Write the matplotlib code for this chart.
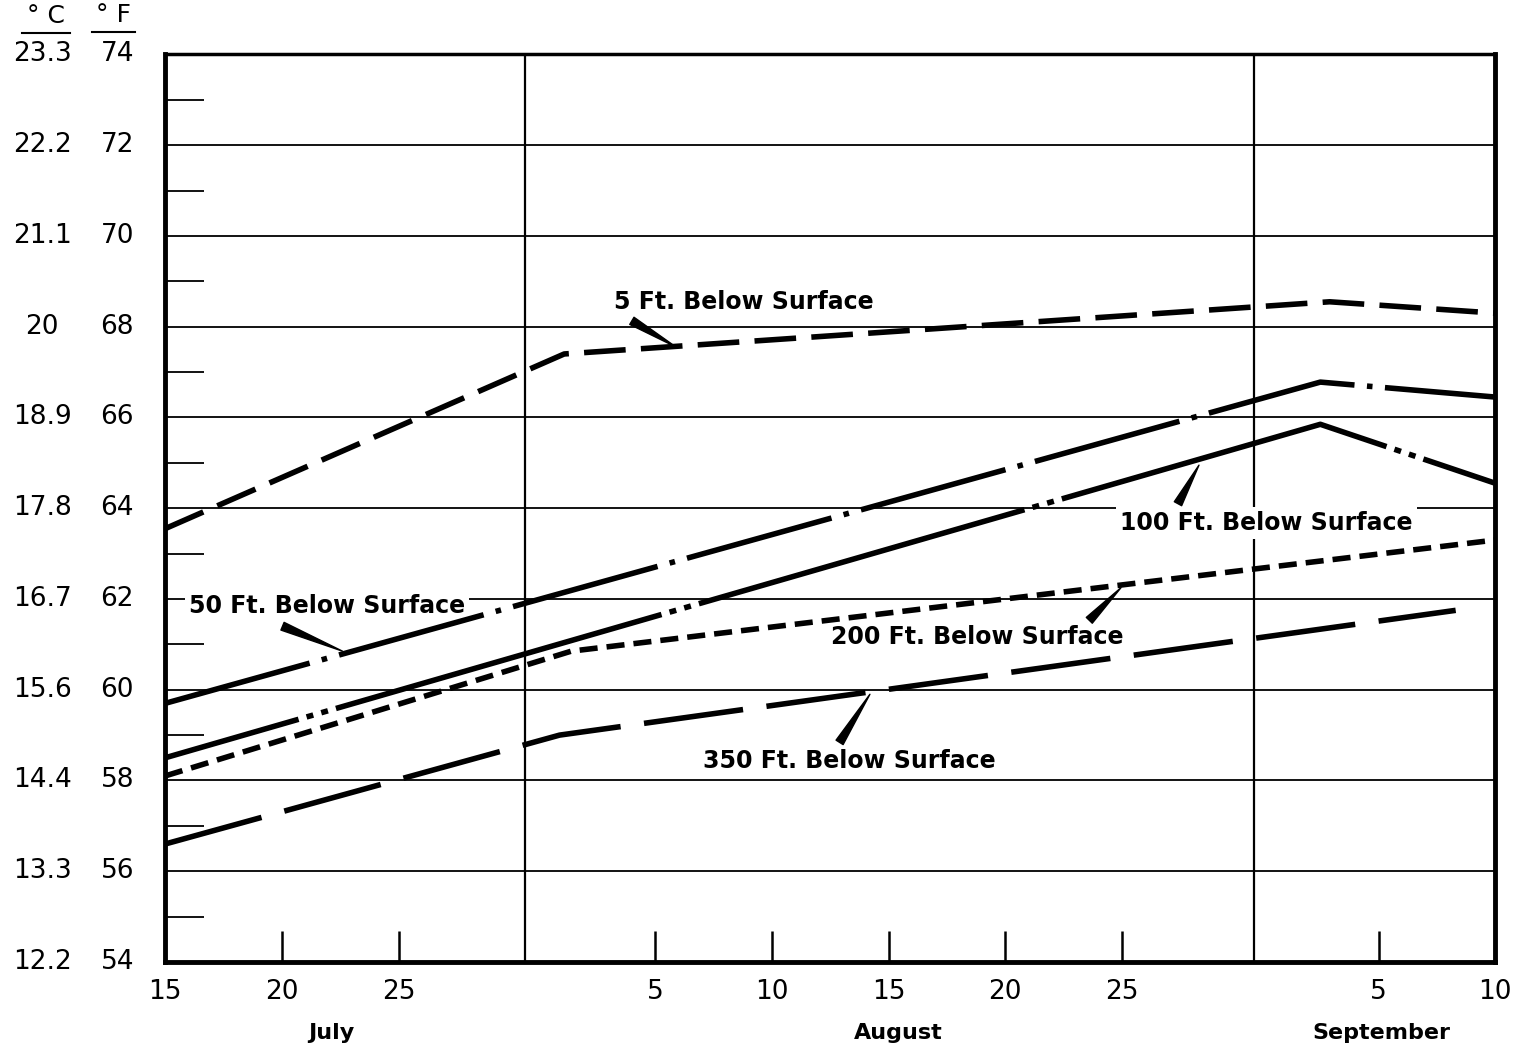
import matplotlib.pyplot as plt
from matplotlib.lines import Line2D
from matplotlib.transforms import blended_transform_factory

plt.rcParams['font.family'] = ['DejaVu Sans']
plt.rcParams['lines.scale_dashes'] = False

# Days counted from July 15, temperatures in deg F
depth5_days = [0, 17.1, 49.9, 57]
depth5_temp = [63.55, 67.4, 68.55, 68.3]

depth50_days = [0, 49.5, 57]
depth50_temp = [59.7, 66.78, 66.45]

depth100_days = [0, 49.5, 57]
depth100_temp = [58.5, 65.85, 64.55]

depth200_days = [0, 17.4, 57]
depth200_temp = [58.1, 60.85, 63.3]

depth350_days = [0, 16.9, 55.3]
depth350_temp = [56.6, 59.0, 61.75]

tick_days = [0, 5, 10, 21, 26, 31, 36, 41, 52, 57]
tick_labels = ['15', '20', '25', '5', '10', '15', '20', '25', '5', '10']
month_names = ['July', 'August', 'September']
month_centers = [7.1, 31.4, 52.1]
month_edges = [15.4, 46.65]

temp_f = [54, 56, 58, 60, 62, 64, 66, 68, 70, 72, 74]
temp_c = ['12.2', '13.3', '14.4', '15.6', '16.7', '17.8', '18.9', '20', '21.1', '22.2', '23.3']

fig = plt.figure(figsize=(15.29, 10.54), dpi=100)
ax = fig.add_axes([0.108, 0.0873, 0.870, 0.861])
ax.set_xlim(0, 57)
ax.set_ylim(54, 74)

# frame
for side in ['left', 'right', 'bottom']:
    ax.spines[side].set_linewidth(3.5)
ax.spines['top'].set_linewidth(2.5)

# grid: full lines at even degrees, short ticks at odd degrees
ax.set_yticks(temp_f)
ax.set_yticklabels([])
ax.set_yticks(list(range(55, 74, 2)), minor=True)
ax.tick_params(axis='y', which='major', length=0)
ax.tick_params(axis='y', which='minor', direction='in', length=28, width=1.3)
ax.grid(axis='y', which='major', color='black', lw=1.3)
ax.set_axisbelow(True)
for e in month_edges:
    ax.axvline(e, color='black', lw=1.6, zorder=1)

ax.set_xticks(tick_days, tick_labels)
ax.tick_params(axis='x', direction='in', length=22, width=1.8, pad=12, labelsize=19)

# two-column temperature scale
ytrans = blended_transform_factory(ax.transAxes, ax.transData)
for f, c in zip(temp_f, temp_c):
    ax.text(-0.036, f, str(f), transform=ytrans, ha='center', va='center', fontsize=19)
    ax.text(-0.0925, f, c, transform=ytrans, ha='center', va='center', fontsize=19)
ax.text(-0.0895, 1.042, '° C', transform=ax.transAxes, ha='center', va='center', fontsize=18)
ax.text(-0.0388, 1.044, '° F', transform=ax.transAxes, ha='center', va='center', fontsize=18)
ax.add_line(Line2D([-0.1075, -0.0714], [1.024, 1.024], transform=ax.transAxes, color='black', lw=1.5, clip_on=False))
ax.add_line(Line2D([-0.0549, -0.0226], [1.025, 1.025], transform=ax.transAxes, color='black', lw=1.5, clip_on=False))

xtrans = blended_transform_factory(ax.transData, ax.transAxes)
for name, d in zip(month_names, month_centers):
    ax.text(d, -0.078, name, transform=xtrans, ha='center', va='center', fontsize=16, fontweight='bold')

# temperature curves
ax.plot(depth5_days, depth5_temp, color='black', lw=4, dashes=(30, 11), zorder=3)
ax.plot(depth50_days, depth50_temp, color='black', lw=4, dashes=(108, 9, 4, 9), zorder=3)
ax.plot(depth100_days, depth100_temp, color='black', lw=4, linestyle=(144, (244, 6, 5, 6, 5, 6)), zorder=3)
ax.plot(depth200_days, depth200_temp, color='black', lw=4, dashes=(13, 6.5), zorder=3)
ax.plot(depth350_days, depth350_temp, color='black', lw=4, dashes=(72, 17), zorder=3)

# curve labels with wedge leaders
box = dict(facecolor='white', edgecolor='none', pad=3)
labels = [
    ('5 Ft. Below Surface', (24.8, 68.55), (20.0, 68.13), (21.9, 67.55)),
    ('50 Ft. Below Surface', (6.94, 61.85), (5.03, 61.4), (7.6, 60.85)),
    ('100 Ft. Below Surface', (47.2, 63.67), (43.4, 64.1), (44.3, 64.95)),
    ('200 Ft. Below Surface', (34.8, 61.16), (39.6, 61.53), (40.96, 62.25)),
    ('350 Ft. Below Surface', (29.3, 58.42), (28.9, 58.84), (30.2, 59.9)),
]
for text, pos, tail, head in labels:
    ax.text(pos[0], pos[1], text, ha='center', va='center', fontsize=17, fontweight='bold',
            bbox=box, zorder=2.5)
    ax.annotate('', xy=head, xytext=tail,
                arrowprops=dict(arrowstyle='wedge,tail_width=0.6', mutation_scale=10,
                                fc='black', ec='black', shrinkA=0, shrinkB=0), zorder=4)

fig.savefig('out.png', dpi=100)
